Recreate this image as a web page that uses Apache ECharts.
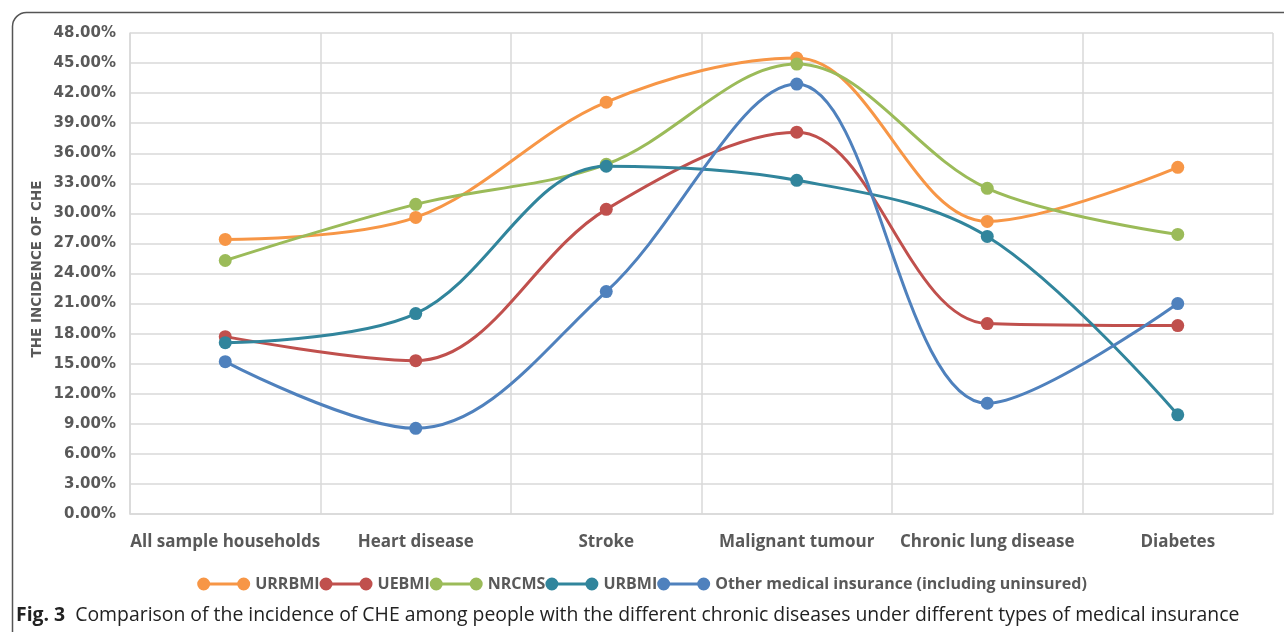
<!DOCTYPE html>
<html><head><meta charset="utf-8">
<script src="https://cdn.jsdelivr.net/npm/echarts@6/dist/echarts.min.js"></script>
<style>html,body{margin:0;padding:0;background:#fff}#c{width:1284px;height:632px}</style>
</head><body><div id="c"></div>
<script>
var categories = ['All sample households','Heart disease','Stroke','Malignant tumour','Chronic lung disease','Diabetes'];
var URRBMI = [27.4, 29.6, 41.1, 45.5, 29.2, 34.6];
var UEBMI  = [17.7, 15.3, 30.4, 38.1, 19.0, 18.8];
var NRCMS  = [25.3, 30.9, 34.9, 44.9, 32.5, 27.9];
var URBMI  = [17.1, 20.0, 34.7, 33.3, 27.7, 9.9];
var OTHER  = [15.2, 8.55, 22.2, 42.9, 11.05, 21.0];
var yTicks = [0,3,6,9,12,15,18,21,24,27,30,33,36,39,42,45,48];
var seriesNames = ['URRBMI','UEBMI','NRCMS','URBMI','Other medical insurance (including uninsured)'];
var seriesColors = ['#F79646','#C0504D','#9BBB59','#31859C','#4F81BD'];
var seriesData = [URRBMI, UEBMI, NRCMS, URBMI, OTHER];

var chart = echarts.init(document.getElementById('c'), null, {renderer:'canvas'});
var legendIcon = 'path://M6.5,0 A6.5,6.5 0 1,1 6.5,13 A6.5,6.5 0 1,1 6.5,0 Z M46.5,0 A6.5,6.5 0 1,1 46.5,13 A6.5,6.5 0 1,1 46.5,0 Z M6.5,5 L46.5,5 L46.5,8 L6.5,8 Z';
var series = seriesNames.map(function(n,i){
  return {
    name:n, type:'line', data:seriesData[i], smooth:0.35,
    symbol:'circle', symbolSize:13, showSymbol:true,
    itemStyle:{color:seriesColors[i]},
    lineStyle:{color:seriesColors[i], width:3},
    emphasis:{disabled:true}, animation:false
  };
});
chart.setOption({
  animation:false,
  grid:{left:130, right:11, top:33, bottom:118, containLabel:false},
  legend:{
    data:seriesNames.map(function(n){return {name:n, icon:legendIcon};}),
    top:571, left:'center', itemWidth:53, itemHeight:13, itemGap:0,
    textStyle:{fontFamily:'Open Sans', fontWeight:'bold', fontSize:16, color:'#595959'}
  },
  xAxis:{
    type:'category', data:categories, boundaryGap:true,
    axisLine:{show:true, lineStyle:{color:'#d9d9d9', width:1.5}},
    axisTick:{show:false},
    splitLine:{show:true, lineStyle:{color:'#d9d9d9', width:1.5}},
    axisLabel:{margin:20, fontFamily:'Open Sans', fontWeight:'bold', fontSize:17, color:'#595959', interval:0}
  },
  yAxis:{
    type:'value', min:0, max:48, interval:3,
    axisLine:{show:true, lineStyle:{color:'#d9d9d9', width:1.5}},
    axisTick:{show:false},
    splitLine:{show:true, lineStyle:{color:'#d9d9d9', width:1.5}},
    axisLabel:{margin:14, fontFamily:'DejaVu Sans', fontWeight:'bold', fontSize:15, color:'#595959',
      formatter:function(v){return v.toFixed(2)+'%';}}
  },
  graphic:[
    {type:'rect', left:10, top:10, shape:{width:1300, height:700, r:14}, style:{fill:'none', stroke:'#555', lineWidth:1.5}, silent:true},
    {type:'text', x:37, y:269, rotation:Math.PI/2, style:{text:'THE INCIDENCE OF CHE', fontFamily:'DejaVu Sans', fontWeight:'bold', fontSize:13.5, fill:'#595959', align:'center', verticalAlign:'middle'}},
    {type:'text', x:16, y:615, style:{
      text:'{b|Fig. 3}  Comparison of the incidence of CHE among people with the different chronic diseases under different types of medical insurance',
      fontFamily:'Open Sans', fontSize:19.4, fill:'#222', verticalAlign:'middle',
      rich:{b:{fontFamily:'Open Sans', fontWeight:'bold', fontSize:19.4, fill:'#222'}}
    }}
  ],
  series:series
});
</script></body></html>
